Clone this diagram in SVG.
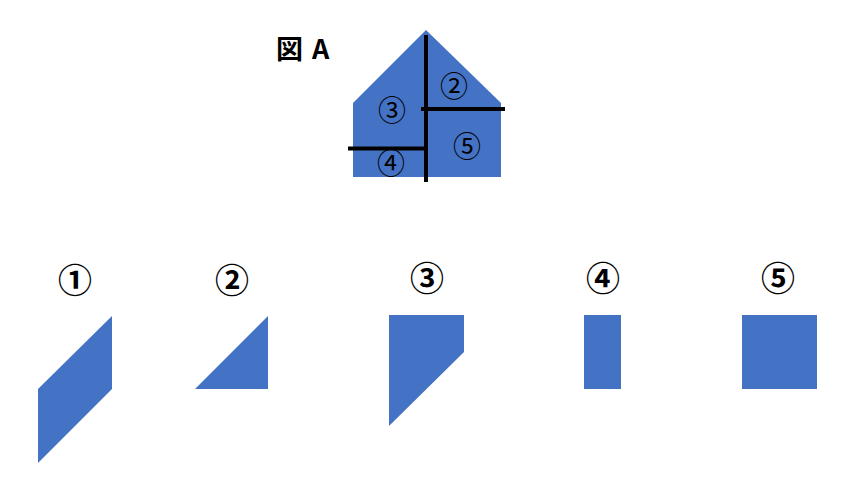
<svg xmlns="http://www.w3.org/2000/svg" width="845" height="479" viewBox="0 0 845 479">
<style>
.shape{fill:#4472C4;}
.cut{stroke:#000;stroke-width:4;fill:none;stroke-linecap:butt;}
.in{font-family:"Noto Sans CJK JP","Noto Sans",sans-serif;font-size:28px;fill:#000;text-anchor:middle;}
.lbl{font-family:"Noto Sans CJK JP","Noto Sans",sans-serif;font-size:34px;font-weight:bold;fill:#000;text-anchor:middle;}
.title{font-family:"Noto Sans CJK JP","Noto Sans",sans-serif;font-size:27px;font-weight:bold;fill:#000;}
</style>
<rect width="845" height="479" fill="#fff"/>
<g id="figA">
<text class="title" x="276" y="59">図<tspan dx="9">A</tspan></text>
<polygon class="shape" points="353,103 426,30 501,103 501,177 353,177"/>
<g id="cuts">
<line class="cut" x1="426" y1="35" x2="426" y2="182"/>
<line class="cut" x1="421" y1="109" x2="505" y2="109"/>
<line class="cut" x1="348" y1="148.5" x2="426" y2="148.5"/>
</g>
<text class="in" x="392" y="120.5">③</text>
<text class="in" x="454" y="97">②</text>
<text class="in" x="467" y="156.5">⑤</text>
<text class="in" x="391" y="174">④</text>
</g>
<g id="piece1">
<text class="lbl" x="75" y="292.5">①</text>
<polygon class="shape" points="38,389 112,316 112,389 38,463"/>
</g>
<g id="piece2">
<text class="lbl" x="232" y="292.5">②</text>
<polygon class="shape" points="195,389 268,316 268,389"/>
</g>
<g id="piece3">
<text class="lbl" x="427" y="291">③</text>
<polygon class="shape" points="389,315 464,315 464,352 389,426"/>
</g>
<g id="piece4">
<text class="lbl" x="603" y="291">④</text>
<rect class="shape" x="584" y="315" width="37" height="74"/>
</g>
<g id="piece5">
<text class="lbl" x="778" y="291">⑤</text>
<rect class="shape" x="742" y="315" width="75" height="74"/>
</g>
</svg>
